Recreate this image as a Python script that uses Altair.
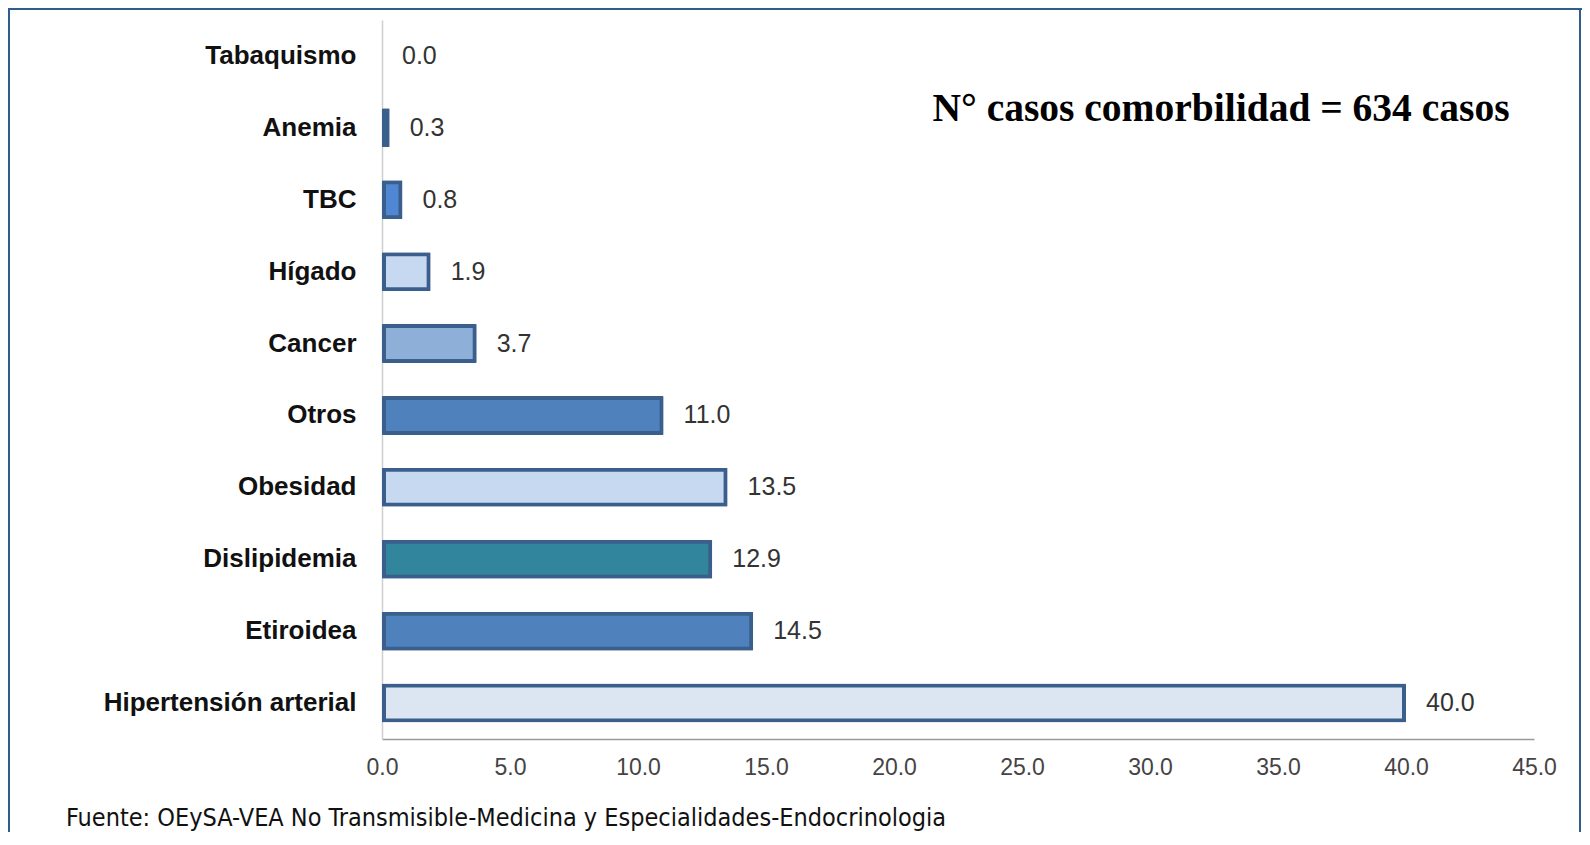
import altair as alt
import pandas as pd

categories = ["Tabaquismo", "Anemia", "TBC", "Hígado", "Cancer", "Otros",
              "Obesidad", "Dislipidemia", "Etiroidea", "Hipertensión arterial"]
values = [0.0, 0.3, 0.8, 1.9, 3.7, 11.0, 13.5, 12.9, 14.5, 40.0]
x_ticks = [0, 5, 10, 15, 20, 25, 30, 35, 40, 45]
title_text = "N° casos comorbilidad = 634 casos"
footer_text = "Fuente: OEySA-VEA  No Transmisible-Medicina y Especialidades-Endocrinologia"

fills = ["#4f81bd", "#4470a8", "#4f87d3", "#c6d9f1", "#8eafd8", "#4f81bd",
         "#c6d9f1", "#31859c", "#4f81bd", "#dce6f2"]
OUTLINE = "#3a5f8d"

df = pd.DataFrame({"cat": categories, "value": values})

W, H = 1152, 719
X_MAX = 45
BORDER_UNITS = 4 * X_MAX / W  # 4px outline expressed in axis units
FRAME = "#2e5d8e"

y_enc = alt.Y("cat:N", sort=categories,
              scale=alt.Scale(paddingInner=0.5, paddingOuter=0.25),
              axis=alt.Axis(title=None, ticks=False, domainColor="#cfcfcf", domainWidth=1.5,
                            labelFont="Liberation Sans", labelFontWeight="bold",
                            labelFontSize=26, labelColor="#111111", labelPadding=26,
                            labelLimit=500))
x_enc = alt.X("value:Q", scale=alt.Scale(domain=[0, X_MAX], nice=False),
              axis=alt.Axis(title=None, values=x_ticks, format=".1f", ticks=False, grid=False,
                            domainColor="#9a9a9a", domainWidth=1.5, labelFlush=False,
                            labelFont="Liberation Sans", labelFontSize=23,
                            labelColor="#444444", labelPadding=17))

base = alt.Chart(df).transform_filter(alt.datum.value > 0)

outer = base.mark_bar(size=39, color=OUTLINE, cornerRadius=1).encode(
    x=x_enc,
    y=y_enc,
)

inner = base.transform_filter(alt.datum.value > 0.5).transform_calculate(
    x_start=f"{BORDER_UNITS}",
    x_end=f"datum.value - {BORDER_UNITS}",
).mark_bar(size=31).encode(
    x="x_start:Q",
    x2="x_end:Q",
    y=alt.Y("cat:N", sort=categories),
    color=alt.Color("cat:N", scale=alt.Scale(domain=categories, range=fills), legend=None),
)

labels = alt.Chart(df).mark_text(align="left", baseline="middle", dx=20,
                                 font="Liberation Sans", fontSize=25, color="#333333").encode(
    x="value:Q",
    y=alt.Y("cat:N", sort=categories),
    text=alt.Text("value:Q", format=".1f"),
)

title_df = pd.DataFrame({"t": [title_text]})
title = alt.Chart(title_df).mark_text(align="center", baseline="alphabetic",
                                      font="Liberation Serif", fontWeight="bold",
                                      fontSize=39.5, color="#000000").encode(
    x=alt.value(839), y=alt.value(101), text="t:N")

footer_df = pd.DataFrame({"t": [footer_text]})
footer = alt.Chart(footer_df).mark_text(align="left", baseline="alphabetic",
                                        font="'DejaVu Sans Condensed', 'Liberation Sans', sans-serif",
                                        fontSize=25, color="#111111").encode(
    x=alt.value(-316), y=alt.value(806), text="t:N")

frame_df = pd.DataFrame({"k": [1]})
frame_left = alt.Chart(frame_df).mark_rule(color=FRAME, strokeWidth=2).encode(
    x=alt.value(-373), y=alt.value(-11), y2=alt.value(900))
frame_top = alt.Chart(frame_df).mark_rule(color=FRAME, strokeWidth=2).encode(
    x=alt.value(-374), x2=alt.value(1200), y=alt.value(-11))
frame_right = alt.Chart(frame_df).mark_rule(color=FRAME, strokeWidth=2).encode(
    x=alt.value(1198), y=alt.value(-11), y2=alt.value(900))

chart = alt.layer(outer, inner, labels, title, footer, frame_left, frame_top, frame_right).properties(
    width=W, height=H,
    autosize=alt.AutoSizeParams(type="none"),
    padding={"left": 374, "top": 12, "right": 48, "bottom": 93},
    background="white",
).configure_view(stroke=None)

chart.save("out.html", embed_options={"renderer": "svg", "actions": False})
